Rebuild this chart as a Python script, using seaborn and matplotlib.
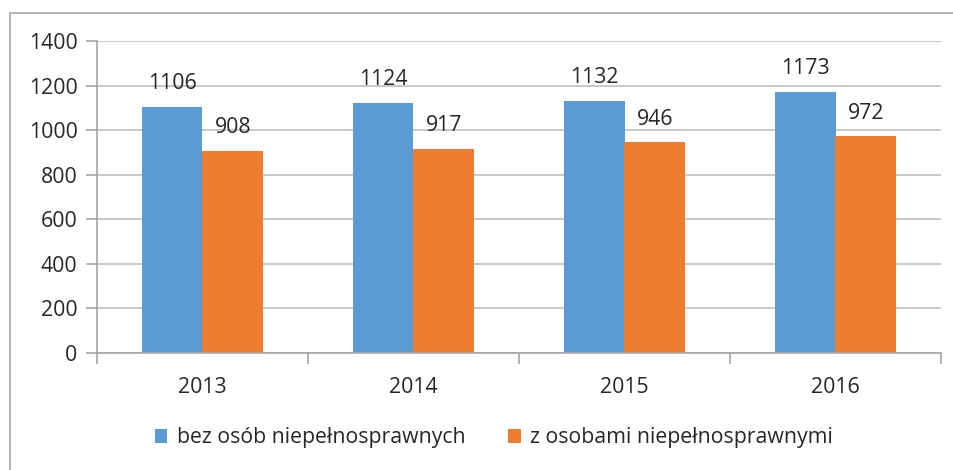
import matplotlib
matplotlib.use("Agg")
import matplotlib.pyplot as plt
import seaborn as sns
import pandas as pd
from matplotlib.patches import Rectangle

years = ["2013", "2014", "2015", "2016"]
series_names = ["bez osób niepełnosprawnych", "z osobami niepełnosprawnymi"]
bez = [1106, 1124, 1132, 1173]
z_osobami = [908, 917, 946, 972]
colors = ["#5B9BD5", "#ED7D31"]

df = pd.DataFrame({
    "year": years * 2,
    "value": bez + z_osobami,
    "series": [series_names[0]] * 4 + [series_names[1]] * 4,
})

sns.set_theme(style="white")
plt.rcParams["font.family"] = ["Open Sans", "DejaVu Sans"]

fig = plt.figure(figsize=(9.54, 4.70), dpi=100)
ax = fig.add_axes([97 / 954, 1 - 353 / 470, (941 - 97) / 954, (353 - 41) / 470])

sns.barplot(data=df, x="year", y="value", hue="series", palette=colors,
            width=0.574, saturation=1, ax=ax, legend=True, edgecolor="none")

FS = 15.3
ax.set_ylim(0, 1400)
ax.set_xlim(-0.5, 3.5)
ax.set_yticks(range(0, 1401, 200))
ax.yaxis.grid(True, color="#BFBFBF", linewidth=1.2)
ax.set_axisbelow(True)
for s in ["top", "right"]:
    ax.spines[s].set_visible(False)
ax.spines["left"].set_color("#A6A6A6")
ax.spines["bottom"].set_color("#A6A6A6")
ax.spines["left"].set_linewidth(1.2)
ax.spines["bottom"].set_linewidth(1.2)
ax.set_xlabel("")
ax.set_ylabel("")
ax.tick_params(axis="both", labelsize=FS, colors="#A6A6A6", labelcolor="#262626")
ax.tick_params(axis="y", length=8, width=1.2, left=True, pad=6)
ax.tick_params(axis="x", length=0, pad=17)
# tick marks between categories on the x axis
ax.set_xticks([-0.5, 0.5, 1.5, 2.5, 3.5], minor=True)
ax.tick_params(axis="x", which="minor", length=8, width=1.2, bottom=True, color="#A6A6A6")

for cont in ax.containers:
    ax.bar_label(cont, fmt="%d", padding=9, fontsize=FS, color="#262626")

handles, labels = ax.get_legend_handles_labels()
ax.legend_.remove()
fig.legend(handles, labels, loc="center", bbox_to_anchor=(494 / 954, 1 - 438 / 470),
           ncol=2, frameon=False, fontsize=FS, handlelength=0.6, handleheight=0.6,
           handletextpad=0.45, columnspacing=2.0, labelcolor="#262626")

# outer chart border (top and left visible)
fig.patches.append(Rectangle((10 / 954, -0.1), 1.2, 1 - 13 / 470 + 0.1,
                             transform=fig.transFigure, fill=False,
                             edgecolor="#A6A6A6", linewidth=1.2))

fig.savefig("out.png", dpi=100)
